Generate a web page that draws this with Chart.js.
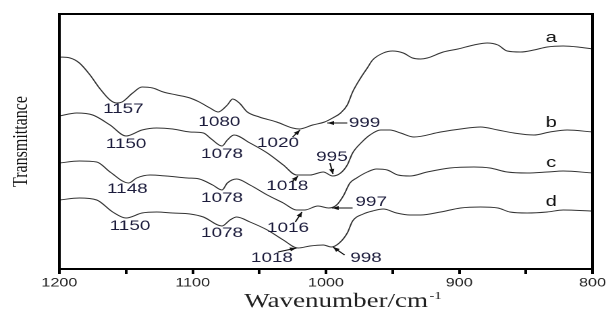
<!DOCTYPE html>
<html>
<head>
<meta charset="utf-8">
<script src="https://cdn.jsdelivr.net/npm/chart.js@4/dist/chart.umd.min.js"></script>
<style>
	html, body { margin: 0; padding: 0; background: #fff; }
</style>
</head>
<body>
<!-- the original figure is stretched sideways, so the canvas is drawn narrow and widened -->
<canvas id="spectra" width="449" height="309" style="width:606px;height:309px"></canvas>
<script>
	let waveA = [1200, 1192, 1185, 1177, 1170, 1162, 1157, 1153, 1145, 1138, 1130, 1122, 1112, 1102, 1095, 1087, 1081, 1074, 1070, 1065, 1059, 1050, 1037, 1025, 1020, 1010, 1001, 995, 989, 984, 980, 974, 969, 965, 957, 950, 942, 935, 929, 924, 912, 901, 889, 879, 871, 864, 854, 844, 834, 822, 811, 800];
	let transA = [212, 211, 206, 194, 181, 169, 166, 167, 176, 182, 181, 177, 174, 171, 167, 161, 157, 164, 170, 166, 157, 152, 147, 141, 140, 144, 147, 151, 156, 164, 177, 191, 201, 209, 216, 218, 216, 211, 210, 211, 217, 220, 224, 226, 224, 218, 217, 219, 222, 223, 222, 220];

	let waveB = [1200, 1187, 1175, 1162, 1150, 1138, 1127, 1115, 1102, 1092, 1086, 1078, 1074, 1069, 1057, 1044, 1032, 1022, 1012, 1002, 995, 989, 984, 980, 973, 967, 959, 952, 944, 934, 914, 899, 884, 871, 859, 844, 832, 819, 800];
	let transB = [153, 156, 154, 144, 133, 139, 141, 140, 137, 136, 130, 123, 129, 134, 126, 116, 104, 94, 94, 97, 93, 96, 104, 116, 127, 134, 139, 139, 136, 132, 137, 140, 142, 139, 136, 134, 137, 139, 137];

	let waveC = [1200, 1185, 1172, 1162, 1148, 1142, 1132, 1120, 1104, 1095, 1085, 1078, 1074, 1067, 1057, 1044, 1032, 1022, 1016, 1006, 998, 992, 987, 982, 977, 969, 962, 954, 946, 937, 924, 907, 889, 877, 864, 849, 834, 822, 800];
	let transC = [106, 108, 107, 97, 86, 91, 94, 93, 91, 90, 84, 79, 86, 90, 84, 74, 66, 59, 59, 63, 61, 64, 73, 86, 91, 97, 100, 99, 94, 93, 97, 101, 102, 101, 97, 96, 97, 98, 96];

	let waveD = [1200, 1185, 1172, 1160, 1150, 1138, 1127, 1115, 1102, 1092, 1078, 1072, 1067, 1057, 1044, 1032, 1021, 1012, 1002, 996, 990, 984, 980, 972, 965, 957, 947, 937, 929, 914, 899, 884, 871, 862, 849, 834, 822, 800];
	let transD = [69, 71, 69, 57, 51, 56, 57, 56, 55, 52, 43, 49, 52, 47, 39, 29, 21, 23, 24, 22, 26, 36, 48, 55, 58, 60, 56, 54, 54, 57, 61, 62, 61, 57, 56, 57, 59, 58];

	// peak labels, in wavenumber / transmittance units
	let peakText = ['1157', '1080', '1020', '999', '1150', '1078', '1018', '995', '1148', '1078', '1016', '997', '1150', '1078', '1018', '998'];
	let peakTextX = [1152, 1080, 1036, 971, 1150, 1078, 1029, 995.5, 1149, 1078, 1028.5, 966, 1147, 1078, 1040.5, 970];
	let peakTextY = [160, 147, 126, 146, 125, 115, 83, 112, 80, 71, 41, 67, 43, 36, 11, 11];

	let arrowFromX = [1025, 984, 1025.5, 997, 1023, 980, 1036, 986];
	let arrowFromY = [132, 146, 87, 106, 47, 61, 17, 14];
	let arrowToX = [1019.5, 999, 1021, 994.7, 1018, 995.5, 1022, 994.7];
	let arrowToY = [139, 146, 93, 95, 57, 61, 21, 22];

	let seriesNames = ['a', 'b', 'c', 'd'];
	let seriesNameX = 831;
	let seriesNameY = [231, 146, 106, 67];

	let xTicks = [1200, 1100, 1000, 900, 800];

	let toPoints = function (xs, ys) {
		return xs.map(function (v, i) { return { x: v, y: ys[i] }; });
	};

	let peakMarks = {
		id: 'peakMarks',
		afterDatasetsDraw: function (chart) {
			let ctx = chart.ctx;
			let x = chart.scales.x;
			let y = chart.scales.y;
			ctx.save();

			ctx.fillStyle = '#1c1c3c';
			ctx.font = '14px "Liberation Sans", Arial, sans-serif';
			ctx.textAlign = 'center';
			ctx.textBaseline = 'middle';
			peakText.forEach(function (t, i) {
				ctx.fillText(t, x.getPixelForValue(peakTextX[i]), y.getPixelForValue(peakTextY[i]));
			});

			ctx.strokeStyle = '#111';
			ctx.fillStyle = '#111';
			ctx.lineWidth = 1;
			arrowFromX.forEach(function (v, i) {
				let x0 = x.getPixelForValue(v), y0 = y.getPixelForValue(arrowFromY[i]);
				let x1 = x.getPixelForValue(arrowToX[i]), y1 = y.getPixelForValue(arrowToY[i]);
				let a = Math.atan2(y1 - y0, x1 - x0);
				ctx.beginPath();
				ctx.moveTo(x0, y0);
				ctx.lineTo(x1, y1);
				ctx.stroke();
				ctx.beginPath();
				ctx.moveTo(x1, y1);
				ctx.lineTo(x1 - 5 * Math.cos(a) - 2 * Math.sin(a), y1 - 5 * Math.sin(a) + 2 * Math.cos(a));
				ctx.lineTo(x1 - 5 * Math.cos(a) + 2 * Math.sin(a), y1 - 5 * Math.sin(a) - 2 * Math.cos(a));
				ctx.closePath();
				ctx.fill();
			});

			ctx.font = '15px "Liberation Sans", Arial, sans-serif';
			seriesNames.forEach(function (n, i) {
				ctx.fillText(n, x.getPixelForValue(seriesNameX), y.getPixelForValue(seriesNameY[i]));
			});

			// x axis title with a raised -1
			let area = chart.chartArea;
			ctx.fillStyle = '#222';
			ctx.textAlign = 'left';
			ctx.textBaseline = 'alphabetic';
			ctx.font = '20px "Liberation Serif", "Times New Roman", serif';
			let tx = area.left + 137;
			ctx.fillText('Wavenumber/cm', tx, area.bottom + 38);
			let w = ctx.measureText('Wavenumber/cm').width;
			ctx.font = '11px "Liberation Serif", "Times New Roman", serif';
			ctx.fillText('-1', tx + w + 1, area.bottom + 30);
			ctx.restore();
		},
		afterDraw: function (chart) {
			let a = chart.chartArea;
			let ctx = chart.ctx;
			ctx.save();
			ctx.strokeStyle = '#000';
			ctx.lineWidth = 2;
			ctx.strokeRect(a.left, a.top, a.right - a.left, a.bottom - a.top);
			ctx.restore();
		}
	};

	let lineStyle = {
		borderColor: '#333',
		borderWidth: 1,
		pointRadius: 0,
		fill: false,
		cubicInterpolationMode: 'monotone'
	};

	let chart = new Chart('spectra', {
		type: 'line',
		data: {
			datasets: [
				Object.assign({ label: 'a', data: toPoints(waveA, transA) }, lineStyle),
				Object.assign({ label: 'b', data: toPoints(waveB, transB) }, lineStyle),
				Object.assign({ label: 'c', data: toPoints(waveC, transC) }, lineStyle),
				Object.assign({ label: 'd', data: toPoints(waveD, transD) }, lineStyle)
			]
		},
		options: {
			responsive: false,
			maintainAspectRatio: false,
			devicePixelRatio: 2,
			animation: false,
			layout: { padding: { top: 14, right: 10, left: 0, bottom: 0 } },
			plugins: { legend: { display: false }, tooltip: { enabled: false } },
			scales: {
				x: {
					type: 'linear',
					reverse: true,
					min: 800,
					max: 1200,
					border: { display: false },
					grid: { drawOnChartArea: false, color: '#000', tickLength: 5, tickWidth: 2 },
					ticks: {
						stepSize: 50,
						autoSkip: false,
						maxRotation: 0,
						padding: 2,
						color: '#222',
						font: { family: '"Liberation Sans", Arial, sans-serif', size: 12 },
						callback: function (v) { return xTicks.indexOf(v) >= 0 ? String(v) : ''; }
					},
					afterFit: function (s) { s.height = 40; s.paddingLeft = 0; s.paddingRight = 0; }
				},
				y: {
					min: 0,
					max: 255,
					border: { display: false },
					grid: { display: false },
					ticks: { display: false },
					title: {
						display: true,
						text: 'Transmittance',
						color: '#111',
						padding: { top: 6, bottom: 0 },
						font: { family: '"Liberation Serif", "Times New Roman", serif', size: 16 }
					},
					afterFit: function (s) { s.width = 44; }
				}
			}
		},
		plugins: [peakMarks]
	});
</script>
</body>
</html>
